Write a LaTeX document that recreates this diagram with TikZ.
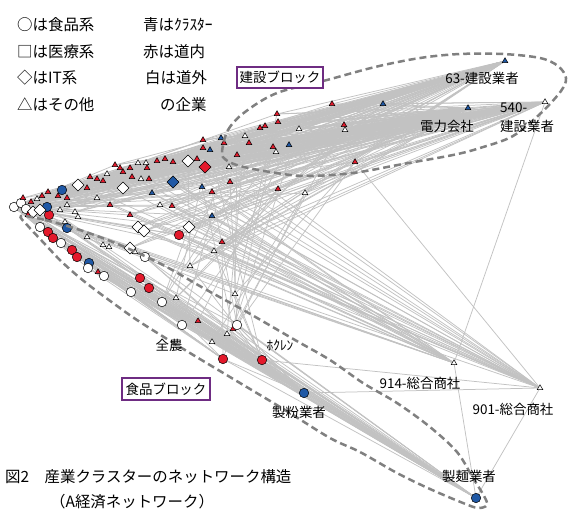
\documentclass[tikz,border=0pt]{standalone}
\usepackage{fontspec}
\newfontfamily\jp{Noto Sans CJK JP}
\usetikzlibrary{shapes.geometric}
\definecolor{nred}{HTML}{E3192B}
\definecolor{nblue}{HTML}{1F58A5}
\definecolor{edgec}{HTML}{C2C2C2}
\definecolor{dashc}{HTML}{808080}
\definecolor{boxc}{HTML}{6E2C82}
\pgfdeclarelayer{bg}
\pgfsetlayers{bg,main}
\tikzset{
  nd/.style={inner sep=0pt, outer sep=0pt, draw=black, line width=0.5bp},
  Cw/.style={nd, circle, minimum size=9.5bp, fill=white},
  Cr/.style={nd, circle, minimum size=9.5bp, fill=nred},
  Cb/.style={nd, circle, minimum size=9.5bp, fill=nblue},
  Dw/.style={nd, diamond, minimum size=12bp, fill=white},
  Dr/.style={nd, diamond, minimum size=12bp, fill=nred},
  Db/.style={nd, diamond, minimum size=12bp, fill=nblue},
  Tw/.style={nd, regular polygon, regular polygon sides=3, minimum size=6.5bp, fill=white},
  Tr/.style={nd, regular polygon, regular polygon sides=3, minimum size=6.5bp, fill=nred},
  Tb/.style={nd, regular polygon, regular polygon sides=3, minimum size=6.5bp, fill=nblue},
  lnk/.style={draw=edgec, line width=0.75bp},
  lab/.style={font=\jp\fontsize{13.5}{15}\selectfont, inner sep=0pt},
  leg/.style={font=\jp\fontsize{15.5}{18}\selectfont, inner sep=0pt, anchor=west},
  blockbox/.style={draw=boxc, fill=white, line width=1.8bp, inner sep=0pt,
     font=\jp\fontsize{13.5}{15}\selectfont},
  blockline/.style={draw=dashc, line width=2.5bp, dash pattern=on 7bp off 4bp}
}
\begin{document}
\begin{tikzpicture}[x=1bp, y={(0bp,-1bp)}]
\useasboundingbox (0,0) rectangle (573,521);

% ---------- nodes ----------
\foreach \n/\x/\y/\s in {
 k63/505/61/Tb, k540/545/102/Tw, kden/468/108/Tb, s914/454/363/Tw, s901/540/388/Tw,
 u1/332/104/Tr, u2/383/104/Tb, u3/277/114/Tr, u4/278/122/Tr, u5/260/128/Tr,
 u6/265/126/Tr, u7/299/129/Tw, u8/344/125/Tr, u9/345/130/Tw, u10/245/136/Tw,
 u11/249/143/Tr, u12/289/145/Tb, u13/273/147/Tr, u14/276/152/Tw, u15/237/155/Tr,
 u16/355/162/Tr, u17/229/167/Tw, u18/203/140/Tr, u19/203/148/Tr, u20/210/150/Tb,
 u21/221/138/Tb, u22/224/143/Tr, u23/197/159/Tr, u24/173/162/Tr, u25/165/159/Tr,
 u26/157/161/Tr, u27/146/163/Tw, u28/138/163/Tw, u29/147/168/Tr, u30/130/168/Tr,
 u31/132/177/Tr, u32/149/179/Tr, u33/141/179/Tw, u34/115/165/Tr, u35/120/168/Tr,
 u36/123/172/Tr, u37/107/174/Tw, u38/90/177/Tr, u39/97/179/Tr, u40/103/181/Tr,
 u41/87/188/Tr, u42/67/198/Tr, u43/48/192/Tr, u44/97/198/Tw, u45/152/193/Tb,
 u46/202/187/Tb, u47/212/192/Tr, u48/230/182/Tr, u49/278/189/Tr, u50/305/193/Tw,
 u51/172/206/Tr, u52/212/216/Tb, u53/130/215/Tr, u54/110/205/Tr, u55/160/205/Tw,
 u56/188/161/Dw, u57/205/167/Dr, u58/173/182/Db, u59/123/188/Dw, u60/78/185/Dw,
 u61/58/196/Tr, u62/67/205/Tw, u63/60/210/Tw, u64/75/212/Tw, u65/62/190/Cb,
 m1/138/227/Dw, m2/144/231/Dw, m3/130/248/Dw, m4/189/227/Dw, m5/179/235/Cr,
 m6/222/242/Tr, m7/214/251/Tw, m8/190/266/Tw, m9/235/294/Tw, m10/176/298/Tw,
 m11/78/217/Tw, m12/65/222/Tw, m13/87/237/Tw, m14/103/245/Tw, m15/109/247/Tw,
 m16/135/252/Tw, m17/98/272/Tr, m18/198/321/Tr, m19/233/329/Tr, m20/227/334/Tw,
 m21/212/342/Tw,
 f1/40/227/Cw, f2/48/232/Cr, f3/53/238/Cr, f4/61/243/Cw, f5/72/250/Cr,
 f6/77/257/Cr, f7/89/263/Cb, f8/88/268/Cw, f9/104/276/Cw, f10/140/278/Cr,
 f11/149/288/Cr, f12/131/292/Cw, f13/162/302/Cw, f14/145/257/Cw, f15/237/325/Cw,
 f16/49/215/Cr, f17/47/207/Cb, f18/67/228/Cb,
 zen/182/325/Cw, hok1/223/359/Cr, hok2/262/360/Cr, seifun/304/393/Cb, seimen/476/498/Cb,
 hub/14/207/Cw, h2/21/203/Cw, h3/26/209/Cw, h4/23/198/Tr, h5/31/202/Tr,
 h6/33/212/Dw, h7/40/210/Dw, h8/37/199/Tw, h9/42/196/Tr, h10/28/215/Tr}
 { \node[\s] (\n) at (\x,\y) {}; }

% ---------- connectors ----------
\begin{pgfonlayer}{bg}
 \foreach \i in {1,...,65} {
   \draw[lnk] (u\i) -- (k63); \draw[lnk] (u\i) -- (k540); \draw[lnk] (u\i) -- (kden);
   \draw[lnk] (hub) -- (u\i); }
 \foreach \i in {1,...,8} { \draw[lnk] (m\i) -- (kden); \draw[lnk] (m\i) -- (k540); \draw[lnk] (m\i) -- (k63); }
 \foreach \i in {2,...,10} { \draw[lnk] (h\i) -- (k63); \draw[lnk] (h\i) -- (k540); }
 \foreach \i in {1,...,21} { \draw[lnk] (hub) -- (m\i); }
 \foreach \i in {2,...,10} { \draw[lnk] (hub) -- (h\i); }
 \foreach \t in {k63,k540,kden,s901,s914,seifun,seimen,hok1,hok2,zen} { \draw[lnk] (hub) -- (\t); }
 \foreach \i in {1,...,18} {
   \draw[lnk] (hub) -- (f\i); \draw[lnk] (f\i) -- (seifun); \draw[lnk] (f\i) -- (seimen); }
 \foreach \i in {1,...,14} { \draw[lnk] (f\i) -- (hok2); }
 \foreach \i in {1,...,10} { \draw[lnk] (f\i) -- (hok1); }
 \foreach \s in {zen,hok1,hok2,f15,m18,m19,m20,m21,m10,m17,h3,h10} {
   \draw[lnk] (\s) -- (seifun); \draw[lnk] (\s) -- (seimen); }
 \foreach \s in {u18,u23,u28,u16,u45,u51,u52,u56,u58,m4,m6,u53,u44,u41,u31,u19,u24,u47,m1,m5,seifun,hok2,u54,u55}
   { \draw[lnk] (\s) -- (s901); }
 \foreach \s in {u46,u47,u51,u58,m1,m2,m4,m5,m7,u59,u53,f14,u45,u52,u32,u29,k540,m3,m16,u55}
   { \draw[lnk] (\s) -- (s914); }
 \draw[lnk] (s914) -- (seimen);
 \draw[lnk] (s901) -- (seimen);
 \foreach \a/\b in {u16/m9, u16/f15, u9/m10, u8/m19, u2/m7, u7/hok1, u50/f15, u50/m21,
   u49/m10, u49/zen, u14/m8, u13/m19, u15/m9, u17/f13, u48/f15, u10/m20, u12/m18,
   u20/hok2, u47/f15, u46/m19, u52/zen, m6/hok1, m7/hok2, u3/m9, u4/f13, m4/f13,
   m8/hok2, m9/hok2, u57/m10, u56/m8}
   { \draw[lnk] (\a) -- (\b); }
\end{pgfonlayer}

% ---------- blocks ----------
\draw[blockline] plot[smooth cycle, tension=0.55] coordinates {
 (222,152) (228,130) (245,112) (277,93) (327,80) (375,67) (420,58) (460,54)
 (503,54) (540,58) (558,66) (566,78) (561,91) (541,113) (513,136) (480,148)
 (453,155) (403,164) (353,173) (305,176) (270,172) (240,166) (226,160)};
\draw[blockline] plot[smooth cycle, tension=0.55] coordinates {
 (21,216) (45,220) (80,230) (120,245) (163,265) (205,289) (245,311) (295,340)
 (330,360) (363,383) (397,403) (430,427) (457,452) (473,478) (484,496) (487,505)
 (478,508) (463,503) (430,489) (397,473) (360,452) (330,438) (285,410) (240,383)
 (185,350) (140,322) (113,303) (85,282) (62,262) (42,241) (28,226)};

\node[blockbox, minimum width=86bp, minimum height=21bp] (bk) at (280,77.5) {建設ブロック};
\node[blockbox, minimum width=88bp, minimum height=22bp] (bf) at (166,389) {食品ブロック};

% ---------- labels ----------
\node[lab] (l63) at (482,78) {63-建設業者};
\node[lab] (lden) at (447,126) {電力会社};
\node[lab, anchor=west] (l540a) at (500,108) {540-};
\node[lab, anchor=west] (l540b) at (500,126) {建設業者};
\node[lab] (lzen) at (169,345) {全農};
\node[lab] (lhok) at (280,345) {ﾎｸﾚﾝ};
\node[lab] (lfun) at (299,412) {製粉業者};
\node[lab] (l914) at (420,383) {914-総合商社};
\node[lab] (l901) at (513,409) {901-総合商社};
\node[lab] (lmen) at (469,476) {製麺業者};

% ---------- legend ----------
\node[leg] (g1) at (17,25) {○は食品系};
\node[leg] (g2) at (17,51.5) {□は医療系};
\node[leg] (g3) at (17,78) {◇はIT系};
\node[leg] (g4) at (17,104.5) {△はその他};
\node[leg] (g5) at (143,25) {青はｸﾗｽﾀｰ};
\node[leg] (g6) at (143,51.5) {赤は道内};
\node[leg] (g7) at (145,78) {白は道外};
\node[leg] (g8) at (160,104.5) {の企業};

% ---------- caption ----------
\node[leg] (c1) at (5,477) {図2　産業クラスターのネットワーク構造};
\node[leg] (c2) at (50,502) {（A経済ネットワーク）};
\end{tikzpicture}
\end{document}
